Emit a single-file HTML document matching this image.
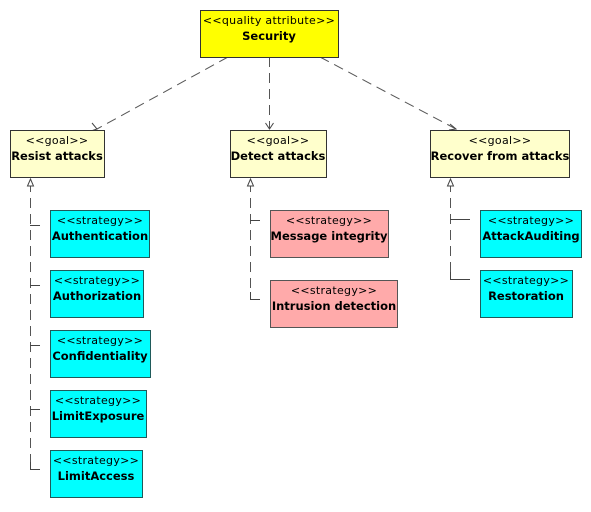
<!DOCTYPE html>
<html><head><style>body{margin:0;background:#fff}</style></head><body>
<svg width="591" height="507" xmlns="http://www.w3.org/2000/svg" font-family="'DejaVu Sans','Liberation Sans',sans-serif">
<g fill="none" stroke="#555" stroke-width="1" stroke-dasharray="10,6">
<line x1="228" y1="57" x2="97" y2="129"/>
<line x1="269.5" y1="57" x2="269.5" y2="129"/>
<line x1="320" y1="57" x2="456" y2="129"/>
<line x1="30.5" y1="182" x2="30.5" y2="469"/>
<line x1="250.5" y1="182" x2="250.5" y2="299"/>
<line x1="450.5" y1="182" x2="450.5" y2="279"/>
</g>
<g stroke="#444" stroke-width="1" fill="none">
<line x1="30" y1="225.5" x2="40" y2="225.5"/>
<line x1="30" y1="285.5" x2="40" y2="285.5"/>
<line x1="30" y1="345.5" x2="40" y2="345.5"/>
<line x1="30" y1="409.5" x2="40" y2="409.5"/>
<polyline points="30.5,462 30.5,469.5 40,469.5"/>
<line x1="250" y1="220.5" x2="260" y2="220.5"/>
<polyline points="250.5,292 250.5,299.5 260,299.5"/>
<line x1="450" y1="219.5" x2="470" y2="219.5"/>
<polyline points="450.5,272 450.5,279.5 470,279.5"/>
<polyline points="92,123 97,129 91,131"/>
<polyline points="265.5,123 269.5,129 273.5,123"/>
<polyline points="450,124 456,129 449,130"/>
<polygon points="27.5,186 30.5,179 33.5,186" fill="#fff"/>
<polygon points="247.5,186 250.5,179 253.5,186" fill="#fff"/>
<polygon points="447.5,186 450.5,179 453.5,186" fill="#fff"/>
</g>
<g stroke="#333" stroke-width="1">
<rect x="200.5" y="10.5" width="138" height="47" fill="#ffff00"/>
<rect x="10.5" y="130.5" width="94" height="47" fill="#ffffcc"/>
<rect x="230.5" y="130.5" width="96" height="47" fill="#ffffcc"/>
<rect x="430.5" y="130.5" width="139" height="47" fill="#ffffcc"/>
</g>
<g stroke="#1f5a5a" stroke-width="1" fill="#00ffff">
<rect x="50.5" y="210.5" width="99" height="47"/>
<rect x="50.5" y="270.5" width="93" height="47"/>
<rect x="50.5" y="330.5" width="100" height="47"/>
<rect x="50.5" y="390.5" width="96" height="47"/>
<rect x="50.5" y="450.5" width="92" height="47"/>
<rect x="480.5" y="210.5" width="101" height="47"/>
<rect x="480.5" y="270.5" width="92" height="47"/>
</g>
<g stroke="#555" stroke-width="1" fill="#ffaaaa">
<rect x="270.5" y="210.5" width="118" height="47"/>
<rect x="270.5" y="280.5" width="127" height="47"/>
</g>
<g text-anchor="middle" fill="#000">
<g font-size="11" letter-spacing="0.3">
<text x="269" y="24">&lt;&lt;quality attribute&gt;&gt;</text>
<text x="57" y="144">&lt;&lt;goal&gt;&gt;</text>
<text x="278" y="144">&lt;&lt;goal&gt;&gt;</text>
<text x="500" y="144">&lt;&lt;goal&gt;&gt;</text>
<text x="100" y="224">&lt;&lt;strategy&gt;&gt;</text>
<text x="97" y="284">&lt;&lt;strategy&gt;&gt;</text>
<text x="100" y="344">&lt;&lt;strategy&gt;&gt;</text>
<text x="98" y="404">&lt;&lt;strategy&gt;&gt;</text>
<text x="96" y="464">&lt;&lt;strategy&gt;&gt;</text>
<text x="329" y="224">&lt;&lt;strategy&gt;&gt;</text>
<text x="334" y="294">&lt;&lt;strategy&gt;&gt;</text>
<text x="531" y="224">&lt;&lt;strategy&gt;&gt;</text>
<text x="526" y="284">&lt;&lt;strategy&gt;&gt;</text>
</g>
<g font-size="11.5" font-weight="bold">
<text x="269" y="40">Security</text>
<text x="57" y="160">Resist attacks</text>
<text x="278" y="160">Detect attacks</text>
<text x="500" y="160">Recover from attacks</text>
<text x="100" y="240">Authentication</text>
<text x="97" y="300">Authorization</text>
<text x="100" y="360">Confidentiality</text>
<text x="98" y="420">LimitExposure</text>
<text x="96" y="480">LimitAccess</text>
<text x="329" y="240">Message integrity</text>
<text x="334" y="310">Intrusion detection</text>
<text x="531" y="240">AttackAuditing</text>
<text x="526" y="300">Restoration</text>
</g>
</g>
</svg>
</body></html>
